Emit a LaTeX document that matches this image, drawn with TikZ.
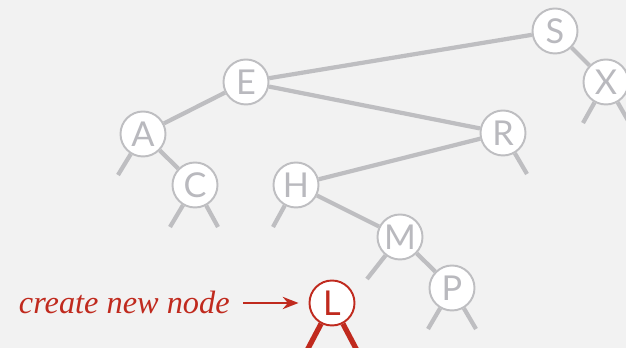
\documentclass[tikz,border=0pt]{standalone}
\usepackage{fontspec}
\newfontfamily\keyfont{Lato}
\newfontfamily\notefont{Liberation Serif}
\usetikzlibrary{positioning,arrows.meta}
\definecolor{bgcol}{RGB}{242,242,242}
\definecolor{linkcol}{RGB}{190,190,193}
\definecolor{keycol}{RGB}{185,185,190}
\definecolor{newcol}{RGB}{192,42,30}
\begin{document}
\begin{tikzpicture}[
		key/.style={circle, draw=linkcol, line width=1.1pt, fill=white, minimum size=0.9cm, inner sep=0pt, text=keycol, font=\keyfont\fontsize{19.5}{19.5}\selectfont},
		newkey/.style={key, draw=newcol, text=newcol},
		link/.style={draw=linkcol, line width=2.4pt},
		newlink/.style={draw=newcol, line width=3pt},
		note/.style={text=newcol, font=\notefont\itshape\fontsize{18.4}{22}\selectfont, inner sep=0pt}
	]
		\fill[bgcol] (0,0) rectangle (12.52,6.96);
		\useasboundingbox (0,0) rectangle (12.52,6.96);
		
		\node[key] (S) at (11.10,6.34) {S};
		\node[key] (X) at (12.12,5.32) {X};
		\node[key] (E) at (4.92,5.32) {E};
		\node[key] (A) at (2.86,4.28) {A};
		\node[key] (R) at (10.06,4.30) {R};
		\node[key] (C) at (3.90,3.26) {C};
		\node[key] (H) at (5.92,3.26) {H};
		\node[key] (M) at (8.00,2.22) {M};
		\node[key] (P) at (9.04,1.20) {P};
		\node[newkey] (L) at (6.64,0.90) {L};
		
		% null links
		\coordinate (Anil) at (2.36,3.46);
		\coordinate (Cl) at (3.40,2.42);
		\coordinate (Cr) at (4.36,2.42);
		\coordinate (Hl) at (5.46,2.42);
		\coordinate (Rr) at (10.54,3.48);
		\coordinate (Xl) at (11.66,4.50);
		\coordinate (Xr) at (12.60,4.48);
		\coordinate (Ml) at (7.34,1.38);
		\coordinate (Pl) at (8.56,0.38);
		\coordinate (Pr) at (9.52,0.38);
		\coordinate (Ll) at (6.14,-0.05);
		\coordinate (Lr) at (7.14,-0.05);
		
		\draw[link] (S) -- (E);
		\draw[link] (S) -- (X);
		\draw[link] (E) -- (A);
		\draw[link] (E) -- (R);
		\draw[link] (A) -- (C);
		\draw[link] (R) -- (H);
		\draw[link] (H) -- (M);
		\draw[link] (M) -- (P);
		
		\draw[link] (A) -- (Anil);
		\draw[link] (C) -- (Cl);
		\draw[link] (C) -- (Cr);
		\draw[link] (H) -- (Hl);
		\draw[link] (R) -- (Rr);
		\draw[link] (X) -- (Xl);
		\draw[link] (X) -- (Xr);
		\draw[link] (M) -- (Ml);
		\draw[link] (P) -- (Pl);
		\draw[link] (P) -- (Pr);
		\draw[newlink] (L) -- (Ll);
		\draw[newlink] (L) -- (Lr);
		
		\node[note, anchor=east] (create) at (4.60,0.92) {create new node};
		\draw[newcol, line width=1.2pt, -{Stealth[length=9pt, width=7pt]}, shorten <=0.26cm, shorten >=0.2cm] (create.east |- L) -- (L);
	\end{tikzpicture}
\end{document}
